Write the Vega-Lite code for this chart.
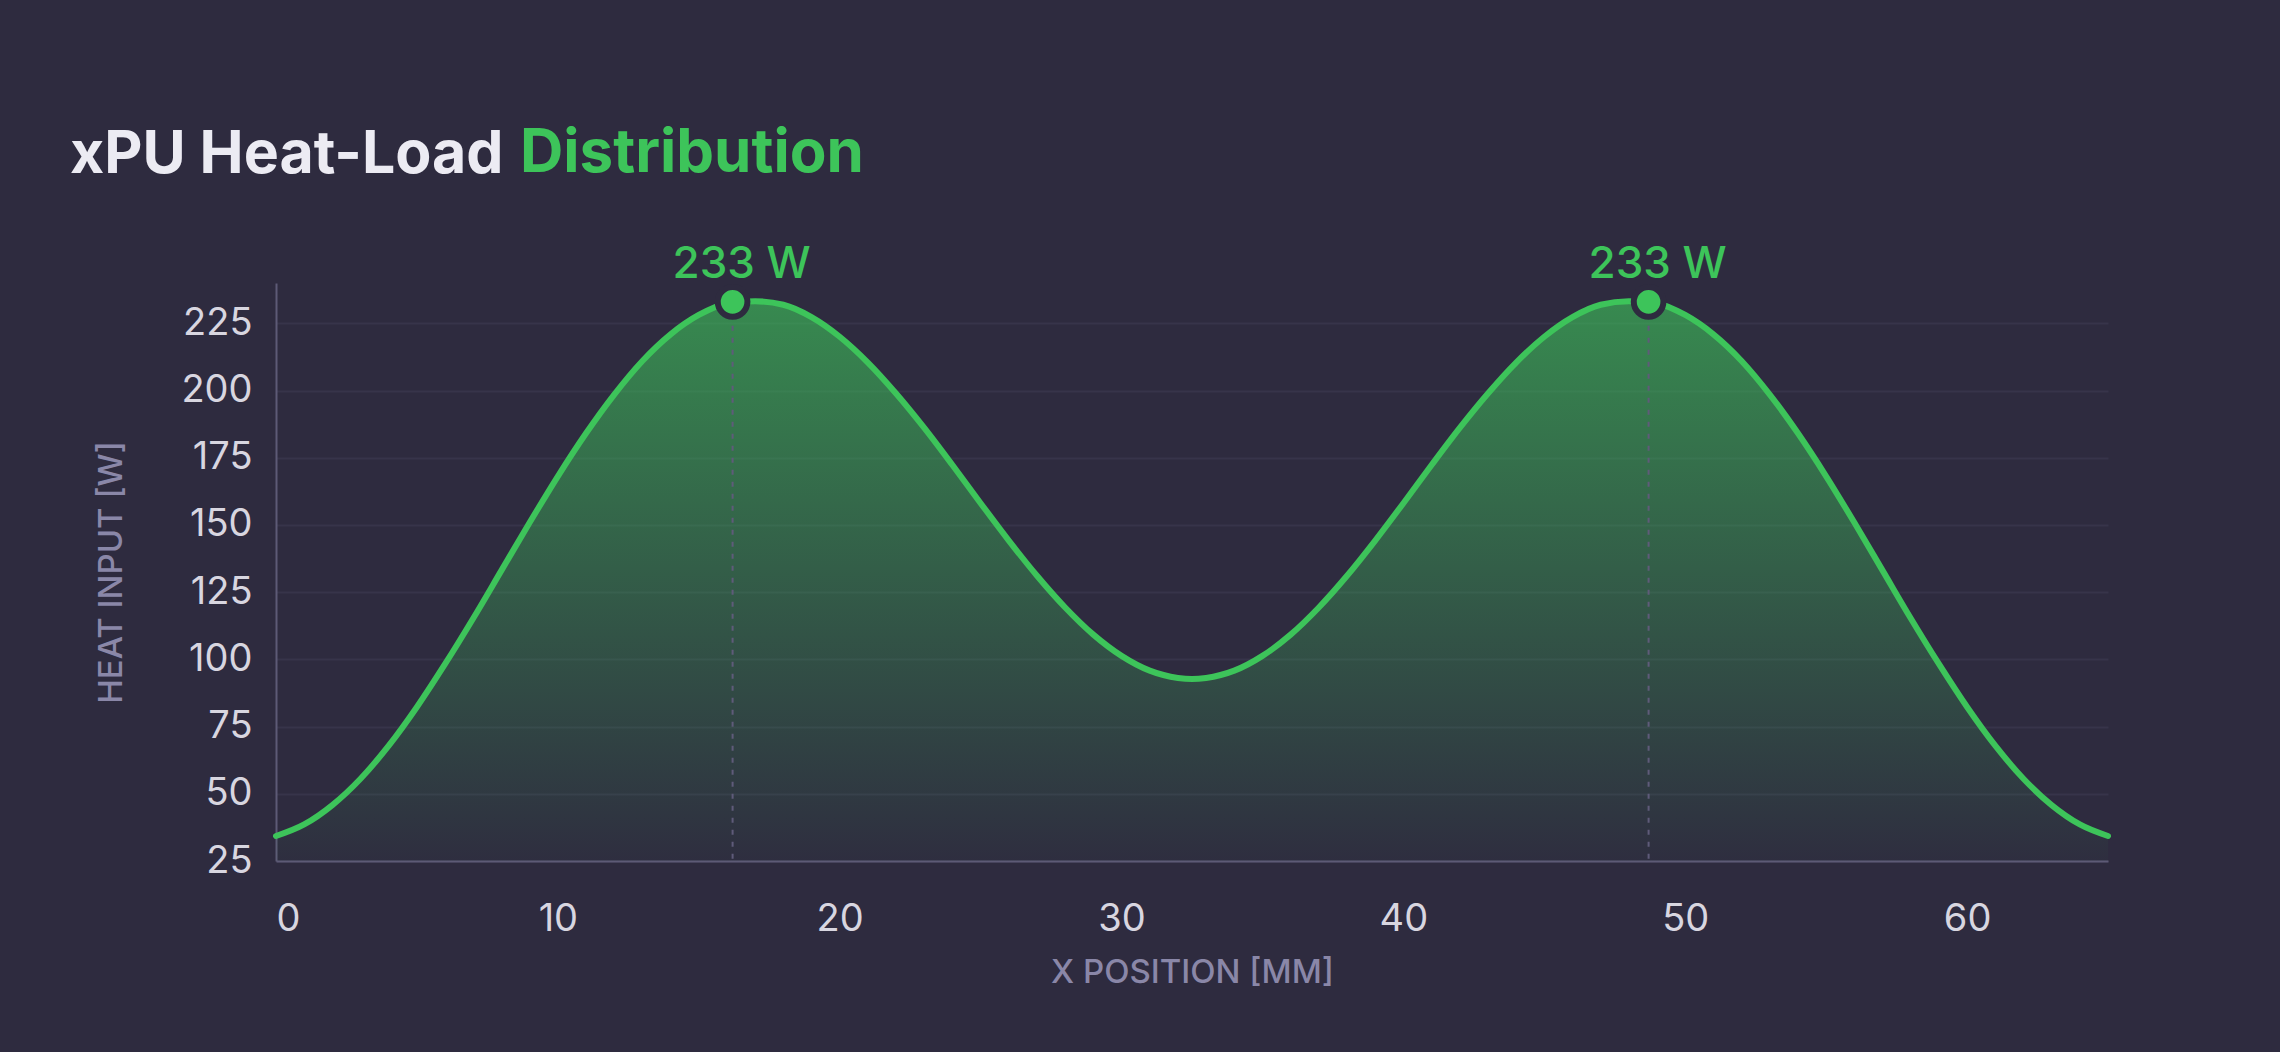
{
  "$schema": "https://vega.github.io/schema/vega-lite/v6.json",
  "width": 1832,
  "height": 578,
  "autosize": {"type": "none"},
  "padding": {"left": 276, "top": 283, "right": 172, "bottom": 191},
  "background": "#2e2b3f",
  "config": {
    "view": {"stroke": null},
    "font": "Inter",
    "axis": {
      "domainColor": "#5d5a76",
      "domainWidth": 2,
      "ticks": false,
      "labelColor": "#d8d6e0",
      "labelFont": "Inter",
      "labelFontSize": 38,
      "titleColor": "#8a87a8",
      "titleFont": "Inter",
      "titleFontSize": 33,
      "titleFontWeight": 500
    }
  },
  "title": {
    "text": "xPU Heat-Load",
    "anchor": "start",
    "frame": "group",
    "dx": -206,
    "dy": 121,
    "offset": 60,
    "fontSize": 59,
    "fontWeight": 700,
    "color": "#ecebf3",
    "font": "Inter"
  },
  "datasets": {
    "curve": [
      {"x": 0, "w": 34.3}, {"x": 1, "w": 38.6}, {"x": 2, "w": 45.8}, {"x": 3, "w": 55.6},
      {"x": 4, "w": 67.9}, {"x": 5, "w": 82.3}, {"x": 6, "w": 98.3}, {"x": 7, "w": 115.3},
      {"x": 8, "w": 133.1}, {"x": 9, "w": 150.9}, {"x": 10, "w": 168.1}, {"x": 11, "w": 184.1},
      {"x": 12, "w": 198.5}, {"x": 13, "w": 211.0}, {"x": 14, "w": 220.9}, {"x": 15, "w": 228.1},
      {"x": 16, "w": 232.4}, {"x": 17, "w": 233.2}, {"x": 18, "w": 231.9}, {"x": 19, "w": 227.3},
      {"x": 20, "w": 220.0}, {"x": 21, "w": 210.4}, {"x": 22, "w": 198.9}, {"x": 23, "w": 186.1},
      {"x": 24, "w": 172.3}, {"x": 25, "w": 158.1}, {"x": 26, "w": 144.2}, {"x": 27, "w": 131.1},
      {"x": 28, "w": 119.3}, {"x": 29, "w": 109.2}, {"x": 30, "w": 101.3}, {"x": 31, "w": 95.8},
      {"x": 32, "w": 93.1}, {"x": 32.5, "w": 92.7}, {"x": 33, "w": 93.1}, {"x": 34, "w": 95.8},
      {"x": 35, "w": 101.3}, {"x": 36, "w": 109.2}, {"x": 37, "w": 119.3}, {"x": 38, "w": 131.1},
      {"x": 39, "w": 144.2}, {"x": 40, "w": 158.1}, {"x": 41, "w": 172.3}, {"x": 42, "w": 186.1},
      {"x": 43, "w": 198.9}, {"x": 44, "w": 210.4}, {"x": 45, "w": 220.0}, {"x": 46, "w": 227.3},
      {"x": 47, "w": 231.9}, {"x": 48, "w": 233.2}, {"x": 49, "w": 232.4}, {"x": 50, "w": 228.1},
      {"x": 51, "w": 220.9}, {"x": 52, "w": 211.0}, {"x": 53, "w": 198.5}, {"x": 54, "w": 184.1},
      {"x": 55, "w": 168.1}, {"x": 56, "w": 150.9}, {"x": 57, "w": 133.1}, {"x": 58, "w": 115.3},
      {"x": 59, "w": 98.3}, {"x": 60, "w": 82.3}, {"x": 61, "w": 67.9}, {"x": 62, "w": 55.6},
      {"x": 63, "w": 45.8}, {"x": 64, "w": 38.6}, {"x": 65, "w": 34.3}
    ],
    "peaks": [
      {"x": 16.2, "w": 233, "label": "233 W"},
      {"x": 48.7, "w": 233, "label": "233 W"}
    ],
    "title2": [{"t": "Distribution"}]
  },
  "encoding": {
    "x": {
      "field": "x",
      "type": "quantitative",
      "scale": {"domain": [0, 65], "nice": false, "zero": false},
      "axis": {
        "title": "X POSITION [MM]",
        "values": [0, 10, 20, 30, 40, 50, 60],
        "grid": false,
        "labelPadding": 39,
        "titlePadding": 18
      }
    },
    "y": {
      "field": "w",
      "type": "quantitative",
      "scale": {"domain": [25, 240], "nice": false, "zero": false},
      "axis": {
        "title": "HEAT INPUT [W]",
        "values": [25, 50, 75, 100, 125, 150, 175, 200, 225],
        "grid": true,
        "gridColor": "#37344a",
        "gridWidth": 2,
        "labelPadding": 24,
        "titlePadding": 52
      }
    }
  },
  "layer": [
    {
      "data": {"name": "curve"},
      "mark": {
        "type": "area",
        "interpolate": "monotone",
        "fill": {
          "gradient": "linear",
          "x1": 0, "y1": 0, "x2": 0, "y2": 1,
          "stops": [
            {"offset": 0, "color": "rgba(61,196,90,0.62)"},
            {"offset": 1, "color": "rgba(61,196,90,0.02)"}
          ]
        }
      },
      "encoding": {"y2": {"datum": 25}}
    },
    {
      "data": {"name": "curve"},
      "mark": {"type": "line", "interpolate": "monotone", "color": "#3dc45a", "strokeWidth": 6, "strokeCap": "round"},
      "encoding": {}
    },
    {
      "data": {"name": "peaks"},
      "mark": {"type": "rule", "color": "#5f5b7a", "strokeWidth": 2, "strokeDash": [5, 7]},
      "encoding": {"y2": {"datum": 25}}
    },
    {
      "data": {"name": "peaks"},
      "mark": {"type": "point", "filled": true, "shape": "circle", "size": 880, "color": "#3dc45a", "stroke": "#2e2b3f", "strokeWidth": 6, "opacity": 1}
    },
    {
      "data": {"name": "peaks"},
      "mark": {"type": "text", "color": "#3dc45a", "fontSize": 44, "fontWeight": 500, "font": "Inter", "baseline": "alphabetic", "align": "center", "dy": -24, "dx": 9},
      "encoding": {"text": {"field": "label"}}
    },
    {
      "data": {"name": "title2"},
      "mark": {"type": "text", "color": "#3dc45a", "fontSize": 60, "fontWeight": 700, "font": "Inter", "baseline": "alphabetic", "align": "left"},
      "encoding": {
        "x": {"value": 244},
        "y": {"value": -111},
        "text": {"field": "t"}
      }
    }
  ]
}
